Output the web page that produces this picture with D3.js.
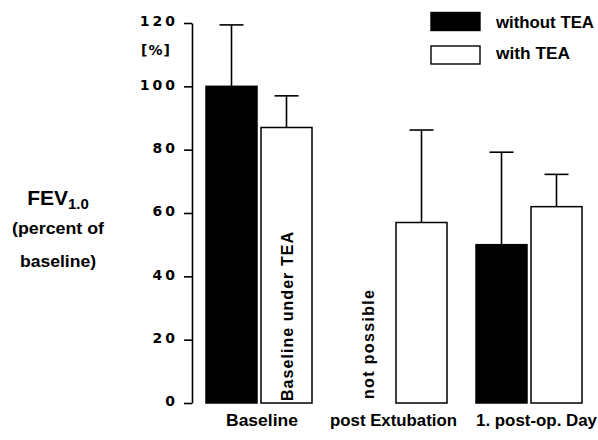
<!DOCTYPE html>
<html>
<head>
<meta charset="utf-8">
<script src="https://cdn.jsdelivr.net/npm/d3@7"></script>
<style>
  html, body { margin: 0; padding: 0; background: #fff; }
  svg { display: block; }
</style>
</head>
<body>
<svg id="chart" width="598" height="440"></svg>
<script>
// ---- data ----
const categories = ["Baseline", "post Extubation", "1. post-op. Day"];
const seriesNames = ["without TEA", "with TEA"];
const withoutTEA = [100, null, 50];
const withoutTEA_sd = [19.4, null, 29.2];
const withTEA = [87, 57, 62];
const withTEA_sd = [10, 29.2, 10.2];
const yTicks = [0, 20, 40, 60, 80, 100, 120];
const yUnit = "[%]";
const yLabelMain = "FEV";
const yLabelSub = "1.0";
const yLabelLines = ["(percent of", "baseline)"];
const innerNotes = [
  { category: "Baseline", series: "with TEA", text: "Baseline under TEA" },
  { category: "post Extubation", series: "without TEA", text: "not possible" }
];

// ---- layout ----
const svg = d3.select("#chart");
const axisX = 192;
const y = d3.scaleLinear().domain([0, 120]).range([403, 23]);
const x0 = d3.scaleBand().domain(categories).range([206, 582]).paddingInner(29 / 135).paddingOuter(0);
const x1 = d3.scaleBand().domain(seriesNames).range([0, x0.bandwidth()]).paddingInner(4 / 55).paddingOuter(0);
const fills = { "without TEA": "#000", "with TEA": "#fff" };
const FONT = "Liberation Sans, Arial, sans-serif";

const rows = [];
categories.forEach((c, i) => {
  rows.push({ cat: c, ser: "without TEA", v: withoutTEA[i], sd: withoutTEA_sd[i] });
  rows.push({ cat: c, ser: "with TEA", v: withTEA[i], sd: withTEA_sd[i] });
});
const present = rows.filter(d => d.v != null);

// error bars
const eb = svg.append("g").attr("stroke", "#000").attr("stroke-width", 1.6);
present.forEach(d => {
  const cx = x0(d.cat) + x1(d.ser) + x1.bandwidth() / 2;
  eb.append("line").attr("x1", cx).attr("x2", cx).attr("y1", y(d.v)).attr("y2", y(d.v + d.sd));
  eb.append("line").attr("x1", cx - 12).attr("x2", cx + 12).attr("y1", y(d.v + d.sd)).attr("y2", y(d.v + d.sd));
});

// bars
svg.append("g").selectAll("rect").data(present).join("rect")
  .attr("x", d => x0(d.cat) + x1(d.ser))
  .attr("y", d => y(d.v))
  .attr("width", x1.bandwidth())
  .attr("height", d => y(0) - y(d.v))
  .attr("fill", d => fills[d.ser])
  .attr("stroke", "#000")
  .attr("stroke-width", 1.5);

// rotated notes
const noteLens = { "with TEA": 169, "without TEA": 109 };
innerNotes.forEach(n => {
  const cx = x0(n.category) + x1(n.series) + x1.bandwidth() / 2;
  const bx = n.series === "with TEA" ? cx + 6.5 : cx + 7;
  svg.append("text")
    .attr("transform", `translate(${bx},${y(0) - (n.series === "with TEA" ? 2 : 4)}) rotate(-90)`)
    .attr("font-family", FONT)
    .attr("font-weight", "bold")
    .attr("font-size", 16)
    .attr("textLength", noteLens[n.series])
    .attr("lengthAdjust", "spacing")
    .attr("fill", "#000")
    .text(n.text);
});

// y axis
const axis = d3.axisLeft(y).tickValues(yTicks).tickSize(8).tickSizeOuter(0).tickPadding(9);
const ag = svg.append("g").attr("transform", `translate(${axisX},0)`).call(axis);
ag.select(".domain").attr("stroke-width", 1.6);
ag.selectAll(".tick line").attr("stroke-width", 1.6);
ag.selectAll(".tick text")
  .attr("font-family", "DejaVu Sans, sans-serif")
  .attr("font-weight", "bold")
  .attr("font-size", 14)
  .attr("letter-spacing", 3)
  .attr("dx", 3)
  .attr("dy", "0.2em")
  .attr("fill", "#000");

svg.append("text")
  .attr("x", 156).attr("y", 55)
  .attr("text-anchor", "middle")
  .attr("font-family", "DejaVu Sans, sans-serif")
  .attr("font-weight", "bold")
  .attr("font-size", 14)
  .attr("letter-spacing", 1)
  .text(yUnit);

// y label
const yl = svg.append("text")
  .attr("x", 58).attr("y", 205)
  .attr("text-anchor", "middle")
  .attr("font-family", FONT)
  .attr("font-weight", "bold");
yl.append("tspan").attr("font-size", 21).text(yLabelMain);
yl.append("tspan").attr("font-size", 15).attr("dy", 4).text(yLabelSub);
const ylLens = [92, 76];
yLabelLines.forEach((t, i) => {
  svg.append("text")
    .attr("x", 58).attr("y", 234 + i * 33)
    .attr("text-anchor", "middle")
    .attr("font-family", FONT)
    .attr("font-weight", "bold")
    .attr("font-size", 16)
    .attr("textLength", ylLens[i])
    .attr("lengthAdjust", "spacingAndGlyphs")
    .text(t);
});

// category labels
const catLens = [72, 127, 121];
const catShift = [3, -0.5, 7.5];
svg.append("g").selectAll("text").data(categories).join("text")
  .attr("x", (d, i) => x0(d) + x0.bandwidth() / 2 + catShift[i])
  .attr("y", 426)
  .attr("text-anchor", "middle")
  .attr("font-family", FONT)
  .attr("font-weight", "bold")
  .attr("font-size", 16.5)
  .attr("textLength", (d, i) => catLens[i])
  .attr("lengthAdjust", "spacingAndGlyphs")
  .text(d => d);

// legend
const lg = svg.append("g");
const legLens = [98, 74];
seriesNames.forEach((s, i) => {
  lg.append("rect")
    .attr("x", 431).attr("y", 12.5 + i * 33.5)
    .attr("width", 49).attr("height", 18)
    .attr("fill", fills[s]).attr("stroke", "#000").attr("stroke-width", 1.4);
  lg.append("text")
    .attr("x", 496).attr("y", 27.5 + i * 31.5)
    .attr("font-family", FONT)
    .attr("font-weight", "bold")
    .attr("font-size", 17)
    .attr("textLength", legLens[i])
    .attr("lengthAdjust", "spacingAndGlyphs")
    .text(s);
});
</script>
</body>
</html>
